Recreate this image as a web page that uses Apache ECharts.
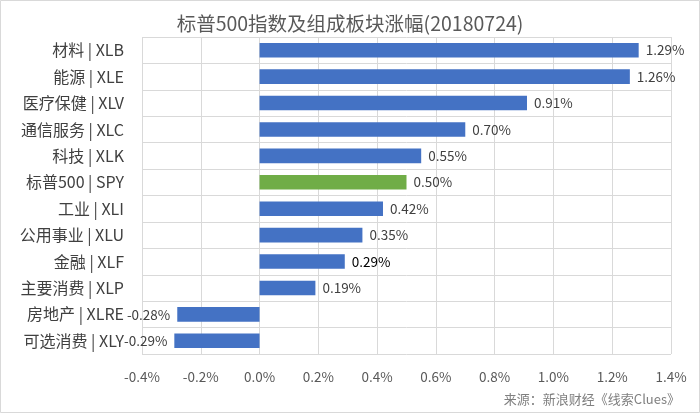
<!DOCTYPE html>
<html>
<head>
<meta charset="utf-8">
<script src="https://cdn.jsdelivr.net/npm/echarts@6/dist/echarts.min.js"></script>
<style>
  html, body { margin: 0; padding: 0; background: #fff; }
  #chart { width: 700px; height: 413px; }
</style>
</head>
<body>
<div id="chart"></div>
<script>
// sector names, top to bottom
const categories = ['材料 | XLB', '能源 | XLE', '医疗保健 | XLV', '通信服务 | XLC', '科技 | XLK', '标普500 | SPY',
    '工业 | XLI', '公用事业 | XLU', '金融 | XLF', '主要消费 | XLP', '房地产 | XLRE', '可选消费 | XLY'];
// daily change, percent
const changes = [1.29, 1.26, 0.91, 0.70, 0.55, 0.50, 0.42, 0.35, 0.29, 0.19, -0.28, -0.29];
const xTicks = [-0.4, -0.2, 0.0, 0.2, 0.4, 0.6, 0.8, 1.0, 1.2, 1.4];

const font = '"Noto Sans CJK SC", "Noto Sans", sans-serif';

let myChart = echarts.init(document.getElementById('chart'));

let barData = changes.map(function (v, i) {
    let item = {
        value: v,
        itemStyle: { color: categories[i].indexOf('SPY') >= 0 ? '#70AD47' : '#4472C4' },
        label: { position: v < 0 ? 'left' : 'right' }
    };
    if (categories[i].indexOf('XLF') >= 0) {
        item.label.color = '#000';
    }
    return item;
});

let option = {
    backgroundColor: '#fff',
    animation: false,
    textStyle: { fontFamily: font },
    title: {
        text: '标普500指数及组成板块涨幅(20180724)',
        left: 'center',
        top: 9,
        textStyle: { fontSize: 19.5, fontWeight: 'normal', color: '#595959', fontFamily: font }
    },
    grid: { left: 142, right: 29, top: 37, bottom: 59 },
    xAxis: {
        type: 'value',
        min: xTicks[0],
        max: xTicks[xTicks.length - 1],
        interval: 0.2,
        axisLine: { show: false },
        axisTick: { show: false },
        axisLabel: {
            color: '#595959',
            fontSize: 13.5,
            margin: 16,
            formatter: function (v) { return v.toFixed(1) + '%'; }
        },
        splitLine: { show: true, lineStyle: { color: '#d9d9d9', width: 1 } }
    },
    yAxis: {
        type: 'category',
        data: categories,
        inverse: true,
        axisLine: { show: false },
        axisTick: { show: false },
        axisLabel: { color: '#404040', fontSize: 16, margin: 18 },
        splitLine: { show: true, lineStyle: { color: '#d9d9d9', width: 1 } }
    },
    series: [{
        type: 'bar',
        data: barData,
        barCategoryGap: '45%',
        label: {
            show: true,
            color: '#404040',
            fontSize: 13.5,
            distance: 7,
            formatter: function (p) { return p.value.toFixed(2) + '%'; }
        }
    }],
    graphic: [
        {
            type: 'rect',
            shape: { x: 0.5, y: 0.5, width: 699, height: 412 },
            style: { fill: 'none', stroke: '#d9d9d9', lineWidth: 1 },
            z: -1
        },
        {
            type: 'text',
            right: 20,
            bottom: 7,
            style: { text: '来源：新浪财经《线索Clues》', fill: '#808080', font: '13px ' + font }
        }
    ]
};

myChart.setOption(option);
</script>
</body>
</html>
